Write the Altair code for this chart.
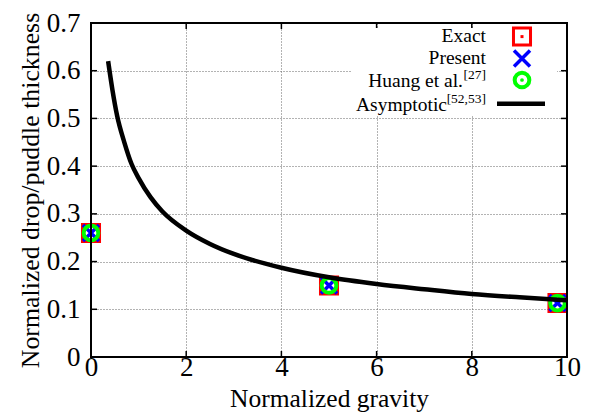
import altair as alt
import pandas as pd

# ---------------- data ----------------
gravity = [0.0, 5.0, 9.8]
exact = [0.26, 0.15, 0.113]
present = [0.26, 0.15, 0.113]
huang = [0.26, 0.15, 0.113]

asym_gravity = [0.36, 0.45, 0.55, 0.7, 0.85, 1.0, 1.25, 1.5, 2.0, 2.5, 3.0,
                4.0, 5.0, 6.0, 7.0, 8.0, 9.0, 10.0]
asym_thickness = [0.62, 0.56, 0.505, 0.45, 0.405, 0.375, 0.335, 0.305, 0.265,
                  0.237, 0.216, 0.187, 0.167, 0.153, 0.142, 0.132, 0.125, 0.119]

x_ticks = [0, 2, 4, 6, 8, 10]
y_ticks = [0, 0.1, 0.2, 0.3, 0.4, 0.5, 0.6, 0.7]

legend_labels = ["Exact", "Present", "Huang et al.", "Asymptotic"]
legend_refs = ["", "", "[27]", "[52,53]"]

x_title = "Normalized gravity"
y_title = "Normalized drop/puddle thickness"

# ---------------- layout / style ----------------
W, H = 476, 334
FONT = "Liberation Serif"
RED, BLUE, GREEN = "#ff0000", "#0000ff", "#00ff00"
X_PATH = "M-1,-1L1,1M-1,1L1,-1"

df_pts = pd.DataFrame({"g": gravity, "exact": exact, "present": present, "huang": huang})
df_asym = pd.DataFrame({"g": asym_gravity, "t": asym_thickness})
df_xt = pd.DataFrame({"v": x_ticks})
df_yt = pd.DataFrame({"v": y_ticks})
one = alt.Data(values=[{}])

xs = alt.Scale(domain=[0, 10], nice=False, zero=False)
ys = alt.Scale(domain=[0, 0.7], nice=False, zero=False)

x_axis = alt.Axis(
    values=x_ticks, format="d", grid=True, gridDash=[1, 2], gridColor="#666666",
    gridWidth=1, ticks=False, domain=False,
    labelFont=FONT, labelFontSize=27, labelColor="black", labelPadding=18,
    labelBaseline="alphabetic", labelFlush=False, labelOverlap=False,
    title=x_title, titleFont=FONT, titleFontSize=25.5, titleFontWeight="normal",
    titleColor="black", titleX=W / 2, titleY=49, titleBaseline="alphabetic",
    titleAlign="center",
)
y_axis = alt.Axis(
    values=y_ticks, format=".1~f", grid=True, gridDash=[1, 2], gridColor="#666666",
    gridWidth=1, ticks=False, domain=False,
    labelFont=FONT, labelFontSize=27, labelColor="black", labelPadding=11,
    labelFlush=False, labelOverlap=False,
    title=y_title, titleFont=FONT, titleFontSize=25.8, titleFontWeight="normal",
    titleColor="black", titleX=-61, titleY=H / 2, titleAngle=270,
    titleBaseline="middle", titleAlign="center",
)

# axes carrier (invisible)
axes_layer = alt.Chart(df_asym).mark_line(opacity=0).encode(
    x=alt.X("g:Q", scale=xs, axis=x_axis),
    y=alt.Y("t:Q", scale=ys, axis=y_axis),
)

curve = alt.Chart(df_asym).mark_line(color="black", strokeWidth=4.5, interpolate="monotone").encode(
    x=alt.X("g:Q", scale=xs),
    y=alt.Y("t:Q", scale=ys),
)

# inward mirror ticks
tick_b = alt.Chart(df_xt).mark_rule(color="black", strokeWidth=1.5).encode(
    x=alt.X("v:Q", scale=xs), y=alt.value(H), y2=alt.value(H - 6))
tick_t = alt.Chart(df_xt).mark_rule(color="black", strokeWidth=1.5).encode(
    x=alt.X("v:Q", scale=xs), y=alt.value(0), y2=alt.value(6))
tick_l = alt.Chart(df_yt).mark_rule(color="black", strokeWidth=1.5).encode(
    y=alt.Y("v:Q", scale=ys), x=alt.value(0), x2=alt.value(6))
tick_r = alt.Chart(df_yt).mark_rule(color="black", strokeWidth=1.5).encode(
    y=alt.Y("v:Q", scale=ys), x=alt.value(W - 6), x2=alt.value(W))

SQ_SIZE, X_SIZE, C_SIZE = 290, 256, 215

# data markers
sq = alt.Chart(df_pts).mark_point(shape="square", size=SQ_SIZE, stroke=RED, strokeWidth=3,
                                  filled=False, opacity=1).encode(
    x=alt.X("g:Q", scale=xs), y=alt.Y("exact:Q", scale=ys))
cr = alt.Chart(df_pts).mark_point(shape=X_PATH, size=X_SIZE, stroke=BLUE, strokeWidth=3.5,
                                  filled=False, opacity=1).encode(
    x=alt.X("g:Q", scale=xs), y=alt.Y("present:Q", scale=ys))
ci = alt.Chart(df_pts).mark_point(shape="circle", size=C_SIZE, stroke=GREEN, strokeWidth=4,
                                  filled=False, opacity=1).encode(
    x=alt.X("g:Q", scale=xs), y=alt.Y("huang:Q", scale=ys))

# legend (opaque key box)
mask = alt.Chart(one).mark_rect(fill="white").encode(
    x=alt.value(261), x2=alt.value(466), y=alt.value(5), y2=alt.value(92))

TX = 395
text_y = [18.7, 41.0, 63.9, 87.7]
mark_y = [13.6, 35.6, 57.0, 80.7]
main_right = [TX, TX, 372, 356]
sup_raise = 7.5

leg = []
for i, lab in enumerate(legend_labels):
    leg.append(alt.Chart(one).mark_text(align="right", baseline="alphabetic", font=FONT,
                                        fontSize=19.5, color="black").encode(
        x=alt.value(main_right[i]), y=alt.value(text_y[i]), text=alt.value(lab)))
    if legend_refs[i]:
        leg.append(alt.Chart(one).mark_text(align="right", baseline="alphabetic", font=FONT,
                                            fontSize=13.5, color="black").encode(
            x=alt.value(TX), y=alt.value(text_y[i] - sup_raise), text=alt.value(legend_refs[i])))

MX = 431
leg += [
    alt.Chart(one).mark_point(shape="square", size=SQ_SIZE, stroke=RED, strokeWidth=3,
                              filled=False, opacity=1).encode(x=alt.value(MX), y=alt.value(mark_y[0])),
    alt.Chart(one).mark_point(shape="square", size=9, fill=RED, filled=True, opacity=1,
                              strokeWidth=0).encode(x=alt.value(MX), y=alt.value(mark_y[0])),
    alt.Chart(one).mark_point(shape=X_PATH, size=X_SIZE, stroke=BLUE, strokeWidth=3.5,
                              filled=False, opacity=1).encode(x=alt.value(MX), y=alt.value(mark_y[1])),
    alt.Chart(one).mark_point(shape="circle", size=C_SIZE, stroke=GREEN, strokeWidth=4,
                              filled=False, opacity=1).encode(x=alt.value(MX), y=alt.value(mark_y[2])),
    alt.Chart(one).mark_point(shape="circle", size=14, fill=GREEN, filled=True, opacity=1,
                              strokeWidth=0).encode(x=alt.value(MX), y=alt.value(mark_y[2])),
    alt.Chart(one).mark_rule(color="black", strokeWidth=4.5).encode(
        x=alt.value(406), x2=alt.value(454), y=alt.value(mark_y[3])),
]

frame = alt.Chart(one).mark_rect(fillOpacity=0, stroke="black", strokeWidth=2).encode(
    x=alt.value(0), x2=alt.value(W), y=alt.value(0), y2=alt.value(H))

chart = alt.layer(
    axes_layer, tick_b, tick_t, tick_l, tick_r, sq, cr, ci, curve, mask, *leg, frame
).properties(
    width=W, height=H,
    autosize=alt.AutoSizeParams(type="none"),
    padding={"left": 83, "top": 15, "right": 14, "bottom": 55},
    background="white",
).configure_view(stroke=None)

chart.save("out.html", embed_options={"renderer": "svg", "actions": False})
